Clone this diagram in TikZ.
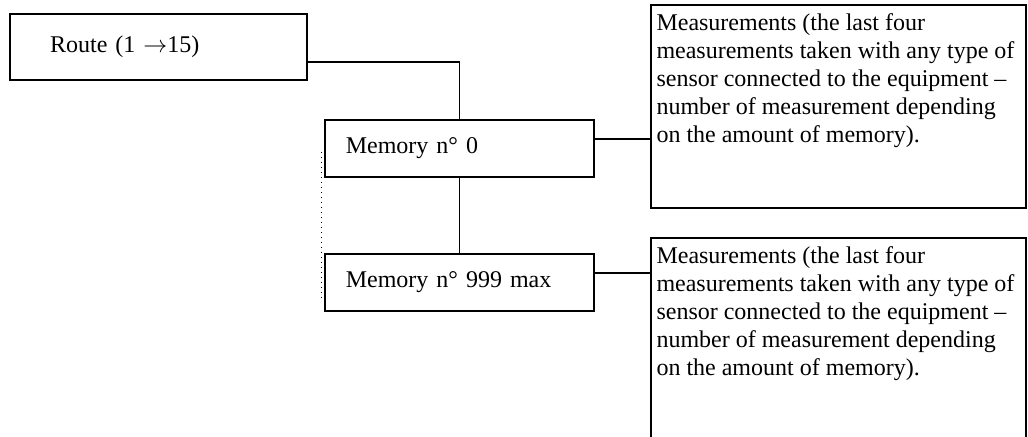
\documentclass[tikz,border=0pt]{standalone}
\usepackage{fontspec}
\setmainfont{Liberation Serif}

\begin{document}
\begin{tikzpicture}[
		x=0.5pt, y=-0.5pt,
		every node/.style={font=\fontsize{12pt}{14pt}\selectfont},
		% Define styles for nodes
		routebox/.style={
				draw,
				rectangle,
				line width=1.1pt,
				anchor=north west,
				minimum width=148.5pt,
				minimum height=33pt,
				inner xsep=20pt,
				text width=108.5pt,
				align=left
			},
		membox/.style={
				draw,
				rectangle,
				line width=0.8pt,
				anchor=north west,
				minimum width=134.5pt,
				minimum height=28.5pt,
				inner xsep=10.5pt,
				text width=113.5pt,
				align=left
			},
		notebox/.style={
				draw,
				rectangle,
				line width=1pt,
				anchor=north west,
				inner xsep=2.75pt,
				inner ysep=3pt
			},
		link/.style={
				line width=0.8pt
			},
		guide/.style={
				dotted,
				line width=0.5pt,
				draw=black
			}
	]

	% Page frame
	\useasboundingbox (0,0) rectangle (1028,436);

	% Text of the measurement boxes
	\def\measuretext{\strut Measurements (the last four\\
		measurements taken with any type of\\
		sensor connected to the equipment –\\
		number of measurement depending\\
		on the amount of memory).}

	% Route
	\node[routebox] (route) at (9,13) {Route (1 $\rightarrow$15)};

	% Memories
	\node[membox] (mem0) at (324,119) {Memory n° 0};
	\node[membox] (mem999) at (324,253) {Memory n° 999 max};

	% Measurement boxes
	\node[notebox] (note0) at (650,4) {\parbox[t][95.5pt][t]{182pt}{\raggedright\measuretext}};
	\node[notebox] (note999) at (650,237) {\parbox[t][108pt][t]{182pt}{\raggedright\measuretext}};

	% Connections
	\draw[link] ([yshift=-7.5pt]route.east) -| (mem0.north);
	\draw[link] (mem0) -- (mem999);
	\draw[link] ([yshift=4.75pt]mem0.east) -- ([yshift=4.75pt]mem0.east -| note0.west);
	\draw[link] ([yshift=4.75pt]mem999.east) -- ([yshift=4.75pt]mem999.east -| note999.west);

	% Dotted guide left of the memories
	\draw[guide] ([xshift=-1.25pt,yshift=-1.75pt]mem0.west) -- ([xshift=-1.25pt,yshift=-9.25pt]mem999.west);

\end{tikzpicture}
\end{document}
